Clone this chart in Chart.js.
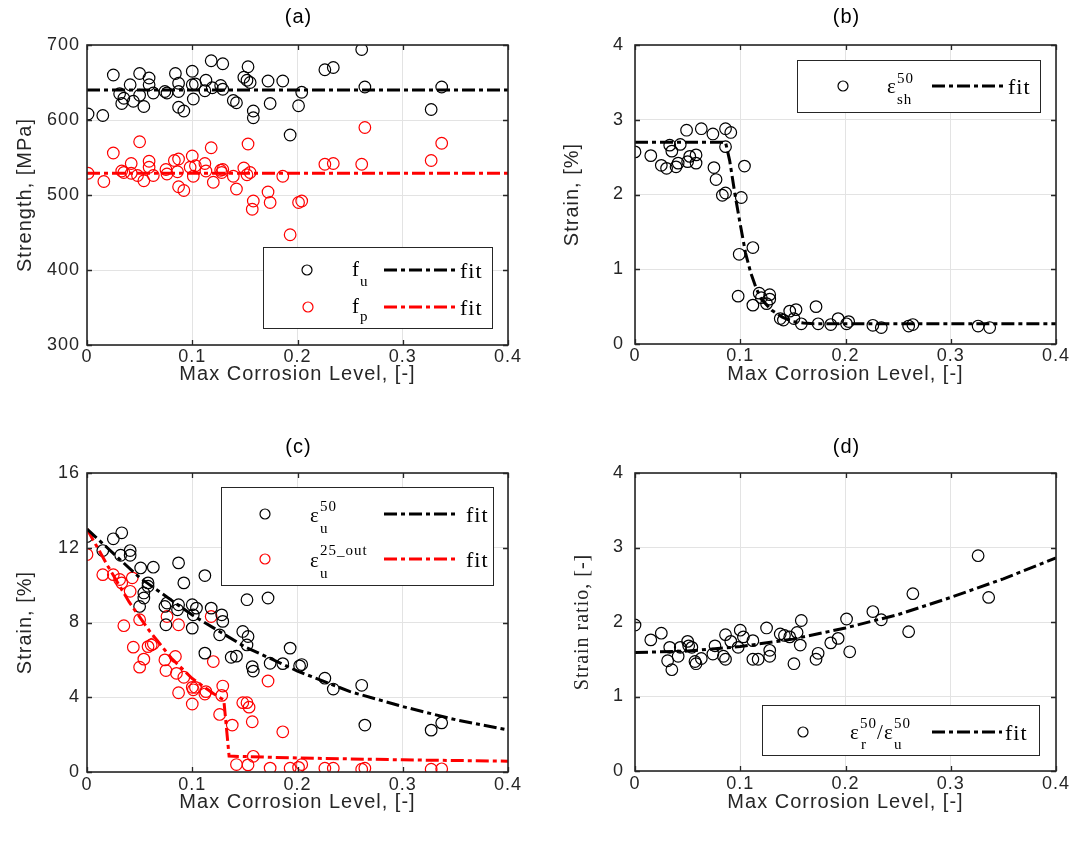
<!DOCTYPE html>
<html lang="en">
<head>
<meta charset="UTF-8">
<title>Corrosion level vs. strength and strain</title>
<script src="https://cdn.jsdelivr.net/npm/chart.js"></script>
<style>
    body { margin: 0; background: #fff; }
    #wrap { position: relative; width: 1075px; height: 842px; background: #fff; }
    canvas { position: absolute; }
</style>
</head>
<body>
<div id="wrap">
    <canvas id="chartA" width="537" height="421" style="left:0;top:0"></canvas>
    <canvas id="chartB" width="538" height="421" style="left:537px;top:0"></canvas>
    <canvas id="chartC" width="537" height="421" style="left:0;top:421px"></canvas>
    <canvas id="chartD" width="538" height="421" style="left:537px;top:421px"></canvas>
</div>
<script>
// shared x axis
const xTicks = [0, 0.1, 0.2, 0.3, 0.4];
const xTickLabels = ['0', '0.1', '0.2', '0.3', '0.4'];

// (a) strength
const yTicksA = [300, 400, 500, 600, 700];
const fuX = [0.001,0.015,0.025,0.05,0.059,0.041,0.059,0.031,0.035,0.033,0.044,0.05,0.054,0.063,0.074,0.076,0.084,0.087,0.087,0.087,0.092,0.1,0.101,0.1,0.103,0.112,0.113,0.118,0.129,0.127,0.129,0.119,0.139,0.142,0.153,0.149,0.152,0.155,0.158,0.158,0.172,0.174,0.186,0.193,0.201,0.204,0.226,0.234,0.261,0.264,0.327,0.337];
const fuY = [608,606,660,662,656,647,647,635,629,622,625,633,618,636,638,636,662,649,638,617,612,665,628,647,648,639,653,679,675,646,641,643,626,623,671,657,653,650,612,603,652,622,652,580,619,637,667,670,694,644,614,644];
const fpX = [0.001,0.016,0.025,0.05,0.033,0.035,0.042,0.042,0.048,0.054,0.059,0.059,0.063,0.075,0.076,0.083,0.087,0.086,0.087,0.092,0.1,0.098,0.103,0.101,0.112,0.113,0.118,0.12,0.127,0.129,0.128,0.139,0.142,0.149,0.153,0.152,0.155,0.158,0.157,0.172,0.174,0.186,0.193,0.201,0.204,0.226,0.234,0.261,0.264,0.327,0.337];
const fpY = [529,518,556,571,532,530,542,529,526,519,545,537,526,534,528,546,548,531,511,506,552,537,539,525,542,532,563,517,533,534,530,525,508,536,568,527,530,492,481,504,490,525,447,490,492,541,542,541,590,546,569];
const fuFitX = [0, 0.4], fuFitY = [640, 640];
const fpFitX = [0, 0.4], fpFitY = [529, 529];

// (b) strain at hardening onset
const yTicksB = [0, 1, 2, 3, 4];
const shX = [0,0.015,0.025,0.03,0.039,0.041,0.033,0.035,0.043,0.049,0.05,0.052,0.058,0.058,0.063,0.074,0.075,0.077,0.086,0.091,0.086,0.104,0.083,0.086,0.101,0.112,0.099,0.098,0.112,0.118,0.12,0.128,0.128,0.125,0.138,0.141,0.147,0.153,0.151,0.158,0.172,0.174,0.186,0.193,0.203,0.201,0.226,0.234,0.26,0.264,0.326,0.337];
const shY = [2.57,2.52,2.39,2.35,2.37,2.42,2.66,2.58,2.67,2.86,2.44,2.51,2.53,2.42,2.88,2.81,2.36,2.20,2.88,2.83,2.64,2.38,1.99,2.02,1.96,1.29,1.20,0.64,0.52,0.68,0.62,0.66,0.60,0.54,0.34,0.32,0.44,0.46,0.34,0.27,0.50,0.27,0.26,0.34,0.30,0.27,0.25,0.22,0.24,0.26,0.24,0.22];
const shFitX = [0, 0.086, 0.09, 0.095, 0.1, 0.105, 0.11, 0.115, 0.12, 0.13, 0.14, 0.15, 0.16, 0.17, 0.4];
const shFitY = [2.7, 2.7, 2.45, 2.0, 1.6, 1.22, 0.95, 0.75, 0.6, 0.45, 0.36, 0.3, 0.28, 0.27, 0.27];

// (c) ultimate strain
const yTicksC = [0, 4, 8, 12, 16];
const uX = [0,0.015,0.025,0.033,0.032,0.041,0.041,0.051,0.063,0.058,0.058,0.054,0.054,0.05,0.087,0.092,0.112,0.074,0.076,0.087,0.086,0.1,0.104,0.101,0.118,0.128,0.129,0.075,0.1,0.126,0.148,0.153,0.152,0.172,0.152,0.112,0.137,0.142,0.157,0.158,0.174,0.186,0.193,0.202,0.204,0.226,0.234,0.261,0.264,0.327,0.337];
const uY = [12.6,11.85,12.48,12.8,11.6,11.85,11.6,10.92,10.96,10.12,9.94,9.58,9.31,8.86,11.19,10.12,10.51,8.86,9.04,8.95,8.68,8.95,8.77,8.41,8.77,8.41,8.06,7.88,7.70,7.34,7.52,7.25,9.22,9.31,6.8,6.36,6.14,6.2,5.64,5.4,5.82,5.8,6.63,5.68,5.75,5.02,4.44,4.64,2.51,2.24,2.63];
const outX = [0,0.015,0.025,0.031,0.033,0.043,0.041,0.05,0.035,0.076,0.087,0.118,0.044,0.054,0.05,0.058,0.061,0.063,0.074,0.075,0.084,0.085,0.092,0.087,0.1,0.101,0.1,0.103,0.112,0.113,0.12,0.129,0.128,0.126,0.138,0.148,0.152,0.154,0.157,0.172,0.186,0.158,0.142,0.153,0.174,0.193,0.201,0.204,0.226,0.234,0.261,0.264,0.327,0.337];
const outY = [11.64,10.56,10.56,10.3,10.12,10.39,9.67,8.15,7.83,8.32,7.88,8.32,6.68,6.04,5.61,6.71,6.8,6.86,6.0,5.43,6.18,5.28,5.07,4.24,4.53,4.4,3.64,4.53,4.17,4.3,5.91,4.6,4.1,3.08,2.51,3.71,3.71,3.47,2.69,4.87,2.15,0.84,0.4,0.38,0.21,0.2,0.25,0.4,0.2,0.2,0.15,0.2,0.15,0.17];
const uFitX = [0, 0.05, 0.1, 0.15, 0.2, 0.25, 0.3, 0.35, 0.4];
const uFitY = [13.0, 10.4, 8.4, 6.7, 5.4, 4.3, 3.5, 2.8, 2.25];
const outFitX = [0, 0.02, 0.04, 0.06, 0.08, 0.1, 0.12, 0.13, 0.135, 0.2, 0.3, 0.4];
const outFitY = [13.0, 11.0, 9.1, 7.5, 6.1, 5.0, 4.2, 3.85, 0.85, 0.75, 0.65, 0.58];

// (d) strain ratio
const yTicksD = [0, 1, 2, 3, 4];
const rX = [0,0.015,0.025,0.031,0.035,0.033,0.041,0.043,0.05,0.051,0.054,0.057,0.058,0.063,0.074,0.076,0.084,0.086,0.086,0.091,0.1,0.103,0.098,0.112,0.112,0.117,0.128,0.128,0.125,0.138,0.142,0.147,0.154,0.151,0.157,0.158,0.172,0.174,0.186,0.193,0.201,0.204,0.226,0.234,0.26,0.264,0.326,0.336];
const rY = [1.96,1.76,1.85,1.48,1.36,1.66,1.54,1.66,1.74,1.68,1.66,1.47,1.44,1.51,1.57,1.68,1.54,1.50,1.83,1.74,1.89,1.80,1.66,1.75,1.50,1.50,1.54,1.62,1.92,1.84,1.82,1.80,1.86,1.44,1.69,2.02,1.50,1.58,1.72,1.78,2.04,1.60,2.14,2.03,1.87,2.38,2.89,2.33];
const rFitX = [0, 0.05, 0.1, 0.15, 0.2, 0.25, 0.3, 0.35, 0.4];
const rFitY = [1.59, 1.61, 1.67, 1.77, 1.92, 2.1, 2.33, 2.58, 2.86];

const SANS = '"Liberation Sans", Arial, Helvetica, sans-serif';
const SERIF = '"Liberation Serif", "Times New Roman", serif';
const AXIS = '#262626';

Chart.defaults.font.family = SANS;
Chart.defaults.color = AXIS;

const pts = (xs, ys) => xs.map((x, i) => ({x: x, y: ys[i]}));

function fitSet(xs, ys, color) {
    return {
        data: pts(xs, ys), showLine: true, borderColor: color, borderWidth: 3,
        borderDash: [13, 4, 4, 4], pointRadius: 0, tension: 0, fill: false
    };
}
function markSet(xs, ys, color) {
    return {
        data: pts(xs, ys), showLine: false, pointStyle: 'circle', pointRadius: 5.8,
        borderColor: color, borderWidth: 1.2, backgroundColor: 'rgba(0,0,0,0)'
    };
}

// frame, inward ticks, panel title and boxed legend
const framePlugin = {
    id: 'frame',
    beforeDraw(chart) {
        // matlab export text runs a little wider than the browser fonts
        chart.ctx.letterSpacing = '1px';
    },
    afterDraw(chart, args, opts) {
        const ctx = chart.ctx;
        const a = chart.chartArea;
        const xs = chart.scales.x, ys = chart.scales.y;
        ctx.save();
        ctx.strokeStyle = AXIS;
        ctx.lineWidth = 1.3;
        ctx.beginPath();
        xs.ticks.forEach(t => {
            const p = Math.round(xs.getPixelForValue(t.value)) + 0.5;
            ctx.moveTo(p, a.bottom); ctx.lineTo(p, a.bottom - 5);
            ctx.moveTo(p, a.top); ctx.lineTo(p, a.top + 5);
        });
        ys.ticks.forEach(t => {
            const p = Math.round(ys.getPixelForValue(t.value)) + 0.5;
            ctx.moveTo(a.left, p); ctx.lineTo(a.left + 5, p);
            ctx.moveTo(a.right, p); ctx.lineTo(a.right - 5, p);
        });
        ctx.stroke();
        ctx.lineWidth = 1.6;
        ctx.strokeRect(a.left, a.top, a.right - a.left, a.bottom - a.top);

        ctx.fillStyle = '#000';
        ctx.font = '20px ' + SANS;
        ctx.letterSpacing = '1px';
        ctx.textAlign = 'center';
        ctx.textBaseline = 'middle';
        ctx.fillText(opts.title, (a.left + a.right) / 2 + 1, opts.titleY);

        const L = opts.legend;
        if (L) {
            ctx.fillStyle = '#fff';
            ctx.fillRect(L.box[0], L.box[1], L.box[2], L.box[3]);
            ctx.strokeStyle = AXIS;
            ctx.lineWidth = 1;
            ctx.strokeRect(L.box[0] + 0.5, L.box[1] + 0.5, L.box[2], L.box[3]);
            L.rows.forEach(r => {
                ctx.beginPath();
                ctx.arc(r.mx, r.y, 5, 0, Math.PI * 2);
                ctx.strokeStyle = r.color;
                ctx.lineWidth = 1.2;
                ctx.stroke();

                ctx.fillStyle = '#000';
                ctx.textAlign = 'left';
                ctx.textBaseline = 'alphabetic';
                r.parts.forEach(p => {
                    ctx.font = p.size + 'px ' + SERIF;
                    ctx.letterSpacing = '1px';
                    ctx.fillText(p.t, p.x, r.y + p.dy);
                });

                ctx.beginPath();
                ctx.setLineDash([13, 4, 4, 4]);
                ctx.lineWidth = 3;
                ctx.strokeStyle = r.color;
                ctx.moveTo(r.lx[0], r.y);
                ctx.lineTo(r.lx[1], r.y);
                ctx.stroke();
                ctx.setLineDash([]);

                ctx.font = '22px ' + SERIF;
                ctx.letterSpacing = '1px';
                ctx.fillText('fit', r.fx, r.y + 8);
            });
        }
        ctx.restore();
    }
};

function makePanel(id, cfg) {
    new Chart(document.getElementById(id), {
        type: 'scatter',
        data: {datasets: cfg.datasets},
        options: {
            responsive: false,
            animation: false,
            events: [],
            layout: {padding: {top: cfg.top, right: cfg.right, left: 0, bottom: 0}},
            plugins: {
                legend: {display: false},
                tooltip: {enabled: false},
                frame: {title: cfg.title, titleY: cfg.titleY, legend: cfg.legend}
            },
            scales: {
                x: {
                    type: 'linear', min: 0, max: 0.4,
                    afterBuildTicks: s => { s.ticks = xTicks.map(v => ({value: v})); },
                    afterFit: s => { s.height = cfg.xh; },
                    ticks: {
                        font: {size: 18}, color: AXIS, padding: cfg.xtp, maxRotation: 0,
                        callback: (v, i) => xTickLabels[i]
                    },
                    grid: {color: '#e3e3e3', lineWidth: 1, drawTicks: false},
                    border: {display: false},
                    title: {
                        display: true, text: 'Max Corrosion Level, [-]', color: AXIS,
                        font: {size: 20}, padding: {top: 0, bottom: cfg.xtitle}
                    }
                },
                y: {
                    type: 'linear', min: cfg.yTicks[0], max: cfg.yTicks[cfg.yTicks.length - 1],
                    afterBuildTicks: s => { s.ticks = cfg.yTicks.map(v => ({value: v})); },
                    afterFit: s => { s.width = cfg.yw; },
                    ticks: {
                        font: {size: 18}, color: AXIS, padding: cfg.ytp,
                        callback: (v, i) => String(cfg.yTicks[i])
                    },
                    grid: {color: '#e3e3e3', lineWidth: 1, drawTicks: false},
                    border: {display: false},
                    title: {
                        display: true, text: cfg.ylabel, color: AXIS,
                        font: {size: 20, family: cfg.yfont || SANS}, padding: {top: cfg.ytitle, bottom: 0}
                    }
                }
            }
        },
        plugins: [framePlugin]
    });
}

makePanel('chartA', {
    title: '(a)', titleY: 17, top: 45, right: 29, xh: 76, yw: 87, xtp: 1, ytp: 7,
    xtitle: 35, ytitle: 13, yTicks: yTicksA, ylabel: 'Strength, [MPa]',
    datasets: [
        fitSet(fuFitX, fuFitY, '#000000'), fitSet(fpFitX, fpFitY, '#ff0000'),
        markSet(fuX, fuY, '#000000'), markSet(fpX, fpY, '#ff0000')
    ],
    legend: {
        box: [263, 247, 229, 81],
        rows: [
            {y: 270, mx: 307, color: '#000000', lx: [384, 459], fx: 460,
             parts: [{t: 'f', x: 352, dy: 6, size: 21}, {t: 'u', x: 360, dy: 16, size: 15}]},
            {y: 307, mx: 308, color: '#ff0000', lx: [384, 459], fx: 460,
             parts: [{t: 'f', x: 352, dy: 6, size: 21}, {t: 'p', x: 360, dy: 14, size: 15}]}
        ]
    }
});

makePanel('chartB', {
    title: '(b)', titleY: 17, top: 45, right: 19, xh: 77, yw: 98, xtp: 1, ytp: 11,
    xtitle: 35, ytitle: 23, yTicks: yTicksB, ylabel: 'Strain, [%]',
    datasets: [fitSet(shFitX, shFitY, '#000000'), markSet(shX, shY, '#000000')],
    legend: {
        box: [260, 60, 243, 52],
        rows: [
            {y: 86, mx: 306, color: '#000000', lx: [395, 466], fx: 471,
             parts: [{t: 'ε', x: 350, dy: 7, size: 21}, {t: '50', x: 360, dy: -3, size: 15},
                     {t: 'sh', x: 360, dy: 18, size: 15}]}
        ]
    }
});

makePanel('chartC', {
    title: '(c)', titleY: 26, top: 52, right: 29, xh: 70, yw: 87, xtp: 2, ytp: 7,
    xtitle: 28, ytitle: 13, yTicks: yTicksC, ylabel: 'Strain, [%]',
    datasets: [
        fitSet(uFitX, uFitY, '#000000'), fitSet(outFitX, outFitY, '#ff0000'),
        markSet(uX, uY, '#000000'), markSet(outX, outY, '#ff0000')
    ],
    legend: {
        box: [221, 66, 272, 98],
        rows: [
            {y: 93, mx: 265, color: '#000000', lx: [384, 459], fx: 466,
             parts: [{t: 'ε', x: 310, dy: 8, size: 21}, {t: '50', x: 320, dy: -3, size: 15},
                     {t: 'u', x: 320, dy: 19, size: 15}]},
            {y: 138, mx: 265, color: '#ff0000', lx: [384, 459], fx: 466,
             parts: [{t: 'ε', x: 310, dy: 8, size: 21}, {t: '25_out', x: 320, dy: -4, size: 15},
                     {t: 'u', x: 320, dy: 19, size: 15}]}
        ]
    }
});

makePanel('chartD', {
    title: '(d)', titleY: 26, top: 52, right: 19, xh: 71, yw: 98, xtp: 2, ytp: 11,
    xtitle: 28, ytitle: 34, yTicks: yTicksD, ylabel: 'Strain ratio, [-]', yfont: SERIF,
    datasets: [fitSet(rFitX, rFitY, '#000000'), markSet(rX, rY, '#000000')],
    legend: {
        box: [225, 284, 277, 50],
        rows: [
            {y: 311, mx: 266, color: '#000000', lx: [395, 465], fx: 468,
             parts: [{t: 'ε', x: 313, dy: 7, size: 21}, {t: '50', x: 323, dy: -4, size: 15},
                     {t: 'r', x: 324, dy: 17, size: 15}, {t: '/', x: 340, dy: 7, size: 21},
                     {t: 'ε', x: 347, dy: 7, size: 21}, {t: '50', x: 357, dy: -4, size: 15},
                     {t: 'u', x: 357, dy: 17, size: 15}]}
        ]
    }
});
</script>
</body>
</html>
